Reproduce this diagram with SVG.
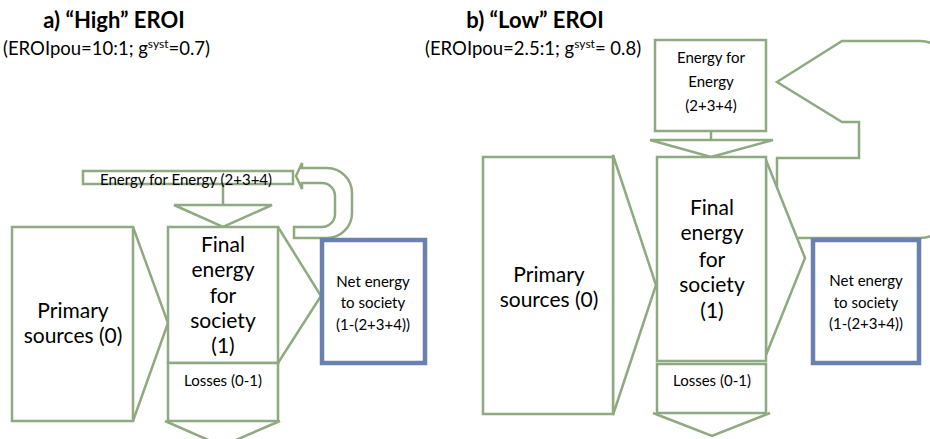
<svg xmlns="http://www.w3.org/2000/svg" width="930" height="439" viewBox="0 0 930 439">
  <defs>
    <style>
      .g { fill: #ffffff; stroke: #8fa981; stroke-width: 2.5; stroke-linejoin: miter; }
      .ln { fill: none; stroke: #8fa981; stroke-width: 2.5; }
      .net { fill: #ffffff; stroke: #6a80ae; stroke-width: 4.5; }
      text { font-family: Lato, "Open Sans", sans-serif; fill: #000000; text-anchor: middle; }
      .title { font-size: 22px; font-weight: bold; }
      .sub { font-size: 18.5px; text-anchor: start; }
      .big { font-size: 21px; }
      .small { font-size: 15px; }
    </style>
  </defs>

  <!-- headings -->
  <g id="heading-a">
    <text class="title" x="114" y="28">a) “High” EROI</text>
    <text class="sub" x="3" y="55">(EROIpou=10:1; g<tspan font-size="12" dy="-7">syst</tspan><tspan dy="7">=0.7)</tspan></text>
  </g>
  <g id="heading-b">
    <text class="title" x="535" y="28">b) “Low” EROI</text>
    <text class="sub" x="425" y="55">(EROIpou=2.5:1; g<tspan font-size="12" dy="-7">syst</tspan><tspan dy="7">= 0.8)</tspan></text>
  </g>

  <!-- ===== panel a ===== -->
  <g id="connectors-a">
    <!-- return loop from net energy back to energy for energy -->
    <path class="g" d="M302,168 L327,168 A25,25 0 0 1 352,193 L352,213 A25,25 0 0 1 327,238 L294,238 L294,227 L322,227 A13,13 0 0 0 335,214 L335,196 A13,13 0 0 0 322,183 L302,183 L302,189 L296,176 L302,163 Z"/>
    <!-- stem and arrowhead into final energy -->
    <line class="ln" x1="223" y1="184" x2="223" y2="205"/>
    <polygon class="g" points="174,205 272,205 223,227"/>
    <!-- primary to final -->
    <polyline class="ln" points="133,227 168,323 133,421"/>
    <!-- final to net -->
    <polyline class="ln" points="278,227 321,296 278,363"/>
    <!-- losses out -->
    <polyline class="ln" points="165,421 222,446 280,421"/>
  </g>

  <g id="eroi-a-energy-for-energy">
    <rect class="g" x="83" y="171" width="210" height="13"/>
    <text class="small" x="186" y="185">Energy for Energy (2+3+4)</text>
  </g>

  <g id="eroi-a-primary">
    <rect class="g" x="12" y="227" width="121" height="194"/>
    <text class="big" x="73" y="318">Primary</text>
    <text class="big" x="73" y="343">sources (0)</text>
  </g>

  <g id="eroi-a-final">
    <rect class="g" x="168" y="227" width="110" height="136"/>
    <text class="big" x="223" y="252">Final</text>
    <text class="big" x="223" y="277">energy</text>
    <text class="big" x="223" y="303">for</text>
    <text class="big" x="223" y="328">society</text>
    <text class="big" x="223" y="353">(1)</text>
  </g>

  <g id="eroi-a-losses">
    <rect class="g" x="168" y="363" width="110" height="58"/>
    <text class="small" x="223" y="386">Losses (0-1)</text>
  </g>

  <g id="eroi-a-net">
    <rect class="net" x="322" y="240" width="103" height="123"/>
    <text class="small" x="373" y="287">Net energy</text>
    <text class="small" x="373" y="308">to society</text>
    <text class="small" x="373" y="330">(1-(2+3+4))</text>
  </g>

  <!-- ===== panel b ===== -->
  <g id="connectors-b">
    <!-- large return arrow from net energy back to energy for energy -->
    <path class="g" d="M777,82 L842,41 L920,41 Q940,41 940,60 L940,220 Q940,238 920,238 L777,238 L777,158 L859,158 L859,122 L842,122 Z"/>
    <!-- stem and arrowhead into final energy -->
    <line class="ln" x1="711" y1="131" x2="711" y2="140"/>
    <polygon class="g" points="650,140 773,140 711,157"/>
    <!-- primary to final -->
    <polygon class="g" points="613,155 656,285 613,415"/>
    <!-- final to net -->
    <polygon class="g" points="766,160 805,258 766,355"/>
    <!-- losses out -->
    <polyline class="ln" points="653,413 712,436 770,413"/>
  </g>

  <g id="eroi-b-energy-for-energy">
    <rect class="g" x="655" y="40" width="111" height="91"/>
    <text class="small" x="711" y="63">Energy for</text>
    <text class="small" x="711" y="87">Energy</text>
    <text class="small" x="711" y="111">(2+3+4)</text>
  </g>

  <g id="eroi-b-primary">
    <rect class="g" x="483" y="157" width="130" height="257"/>
    <text class="big" x="549" y="282">Primary</text>
    <text class="big" x="549" y="307">sources (0)</text>
  </g>

  <g id="eroi-b-final">
    <rect class="g" x="657" y="157" width="109" height="204"/>
    <text class="big" x="712" y="215">Final</text>
    <text class="big" x="712" y="240">energy</text>
    <text class="big" x="712" y="267">for</text>
    <text class="big" x="712" y="292">society</text>
    <text class="big" x="712" y="318">(1)</text>
  </g>

  <g id="eroi-b-losses">
    <rect class="g" x="657" y="364" width="109" height="49"/>
    <text class="small" x="712" y="386">Losses (0-1)</text>
  </g>

  <g id="eroi-b-net">
    <rect class="net" x="813" y="240" width="106" height="123"/>
    <text class="small" x="866" y="286">Net energy</text>
    <text class="small" x="866" y="308">to society</text>
    <text class="small" x="866" y="329">(1-(2+3+4))</text>
  </g>
</svg>
